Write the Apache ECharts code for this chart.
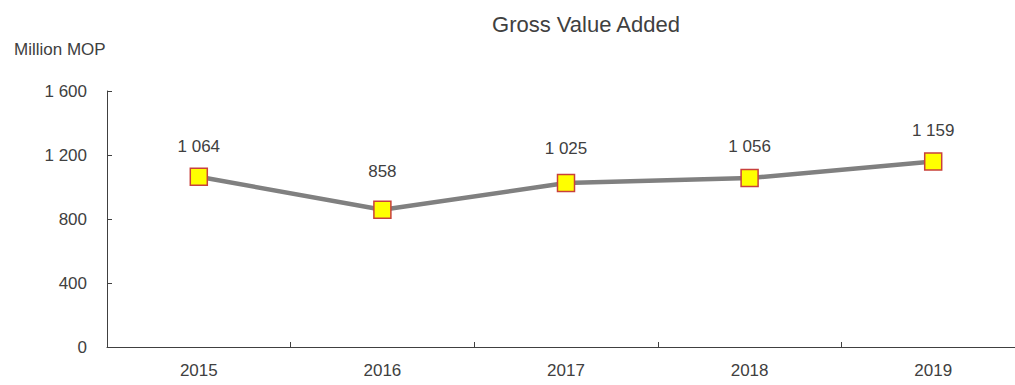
<!DOCTYPE html>
<html>
<head>
<meta charset="utf-8">
<script src="https://cdn.jsdelivr.net/npm/echarts@6/dist/echarts.min.js"></script>
<style>
  html, body { margin: 0; padding: 0; background: #ffffff; }
  #chart { width: 1015px; height: 385px; }
</style>
</head>
<body>
<div id="chart"></div>
<script>
// Gross Value Added, million MOP, by year
const years = ['2015', '2016', '2017', '2018', '2019'];
const grossValueAdded = [1064, 858, 1025, 1056, 1159];
const yTicks = { min: 0, max: 1600, step: 400 };

// extra lift (px) of each value label above its marker
const labelLift = [0, 7, 4, 1, 0];

const FONT = "'Liberation Sans', Arial, sans-serif";
const TEXT = '#404040';

// thousands grouped with a space: 1064 -> "1 064"
function spaced(v) {
  return String(v).replace(/\B(?=(\d{3})+(?!\d))/g, ' ');
}

const points = grossValueAdded.map((v, i) => ({
  value: v,
  label: { distance: 13 + labelLift[i] }
}));

const chart = echarts.init(document.getElementById('chart'), null, { renderer: 'svg' });
chart.setOption({
  animation: false,
  backgroundColor: '#ffffff',
  textStyle: { fontFamily: FONT },
  title: [
    {
      text: 'Gross Value Added',
      left: 581, top: 8, textAlign: 'center',
      textStyle: { fontFamily: FONT, fontSize: 22, fontWeight: 'normal', color: TEXT }
    },
    {
      text: 'Million MOP',
      left: 9, top: 36,
      textStyle: { fontFamily: FONT, fontSize: 17, fontWeight: 'normal', color: TEXT }
    }
  ],
  // plot area runs a little past the right edge of the page
  grid: { left: 107, right: -10, top: 91, bottom: 38,
          containLabel: false, outerBoundsMode: 'none' },
  xAxis: {
    type: 'category',
    data: years,
    boundaryGap: true,
    axisLine: { lineStyle: { color: '#404040', width: 1 } },
    axisTick: { show: true, inside: true, length: 5, alignWithLabel: false,
                lineStyle: { color: '#404040' } },
    axisLabel: { color: TEXT, fontFamily: FONT, fontSize: 17, margin: 15 },
    splitLine: { show: false }
  },
  yAxis: {
    type: 'value',
    min: yTicks.min, max: yTicks.max, interval: yTicks.step,
    axisLine: { show: true, lineStyle: { color: '#404040', width: 1 } },
    axisTick: { show: true, inside: true, length: 5, lineStyle: { color: '#404040' } },
    axisLabel: { color: TEXT, fontFamily: FONT, fontSize: 17, margin: 20,
                 formatter: v => spaced(v) },
    splitLine: { show: false }
  },
  series: [{
    type: 'line',
    data: points,
    symbol: 'rect',
    symbolSize: 17,
    lineStyle: { color: '#808080', width: 4.5 },
    itemStyle: { color: '#FFFF00', borderColor: '#C8403C', borderWidth: 1.5 },
    label: {
      show: true, position: 'top',
      color: TEXT, fontFamily: FONT, fontSize: 17,
      formatter: p => spaced(p.value)
    },
    z: 3
  }]
});
</script>
</body>
</html>
